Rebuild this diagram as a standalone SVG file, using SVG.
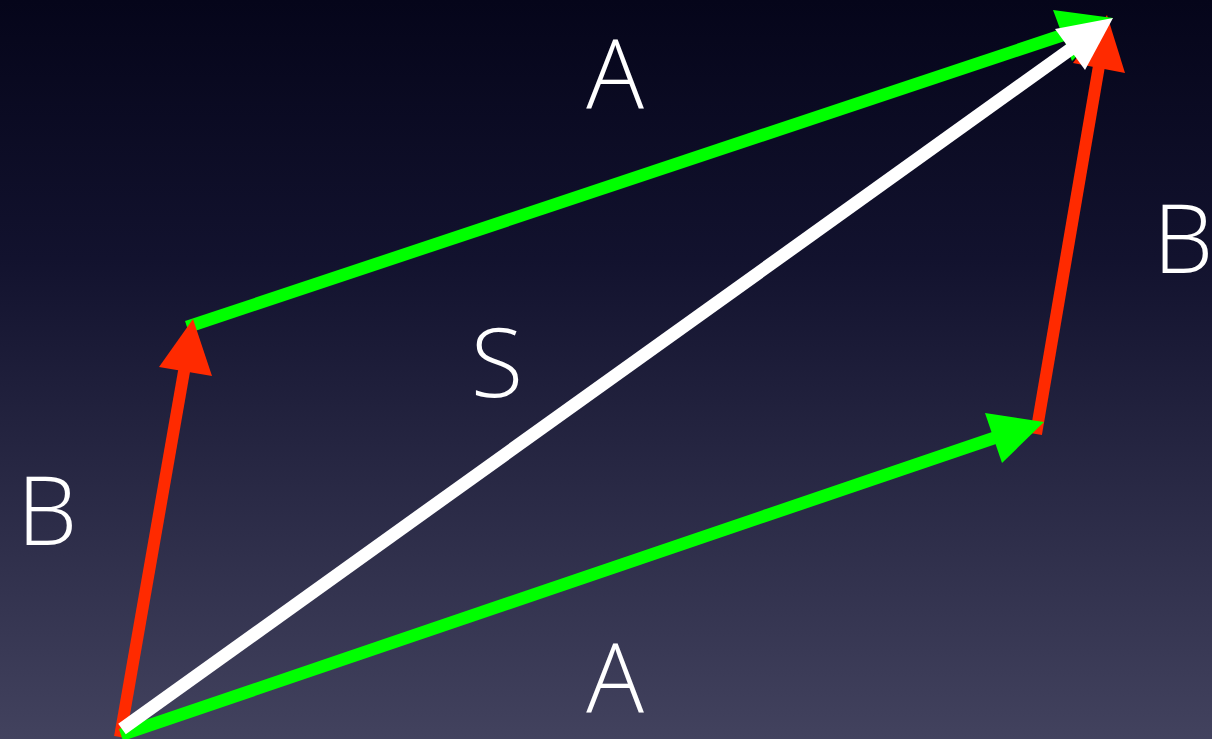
<svg xmlns="http://www.w3.org/2000/svg" width="1212" height="739" viewBox="0 0 1212 739">
<defs>
<linearGradient id="bg" x1="0" y1="0" x2="0" y2="1">
<stop offset="0" stop-color="#05051a"/>
<stop offset="0.35" stop-color="#12122e"/>
<stop offset="1" stop-color="#42425e"/>
</linearGradient>
<style>
.g{stroke:#00ff00;stroke-width:12.5;fill:none}
.gh{fill:#00ff00}
.r{stroke:#ff2a00;stroke-width:12;fill:none}
.rh{fill:#ff2a00}
.w{stroke:#ffffff;stroke-width:13;fill:none}
.wh{fill:#ffffff}
.lbl{font-family:"Open Sans","Liberation Sans",sans-serif;font-weight:300;font-size:96px;fill:#ffffff;text-anchor:middle}
</style>
</defs>
<rect width="1212" height="739" fill="url(#bg)"/>
<g id="connectors">
<g id="b-right">
<line class="r" x1="1036" y1="434" x2="1100" y2="60"/>
<polygon class="rh" points="1107,15 1125,73 1073,63"/>
</g>
<g id="a-top">
<line class="g" x1="187" y1="327" x2="1066" y2="34"/>
<polygon class="gh" points="1113,18 1072,61 1053,10"/>
</g>
<g id="b-left">
<line class="r" x1="120" y1="737" x2="186" y2="360"/>
<polygon class="rh" points="193,319 212,376 159,367"/>
</g>
<g id="a-bottom">
<line class="g" x1="121" y1="735" x2="997" y2="437"/>
<polygon class="gh" points="1044,422 1002,463 985,413"/>
</g>
<g id="s">
<line class="w" x1="122" y1="729" x2="1075" y2="46"/>
<polygon class="wh" points="1113,18 1085,70 1055,29"/>
</g>
</g>
<g id="label-a-top"><text class="lbl" x="615" y="108">A</text></g>
<g id="label-a-bottom"><text class="lbl" x="615" y="712">A</text></g>
<g id="label-b-left"><text class="lbl" x="47" y="545">B</text></g>
<g id="label-b-right"><text class="lbl" x="1183" y="273">B</text></g>
<g id="label-s"><text class="lbl" x="497" y="397">S</text></g>
</svg>
